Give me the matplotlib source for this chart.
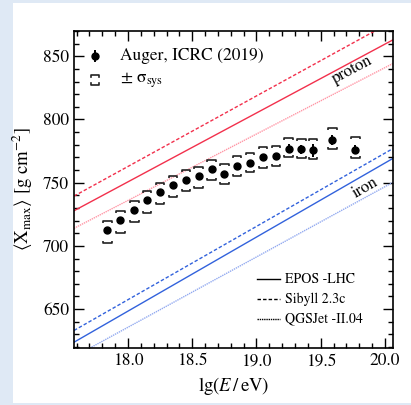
import numpy as np
import matplotlib.pyplot as plt
from matplotlib.collections import LineCollection
from matplotlib.patches import Rectangle

plt.rcParams['font.family'] = ['STIXGeneral', 'DejaVu Serif']
plt.rcParams['mathtext.fontset'] = 'stix'

# Auger FD <Xmax>, ICRC 2019
lgE = [17.84, 17.94, 18.05, 18.15, 18.25, 18.35, 18.45, 18.55, 18.65, 18.75,
       18.85, 18.95, 19.05, 19.15, 19.25, 19.35, 19.44, 19.59, 19.77]
xmax = [712.4, 720.2, 728.3, 736.0, 742.5, 747.8, 752.5, 755.1, 760.6, 757.2,
        763.0, 765.9, 770.1, 770.9, 776.9, 776.4, 775.6, 783.7, 776.1]
stat = [1.0, 1.0, 1.0, 1.0, 1.0, 1.0, 1.0, 1.0, 1.2, 1.2,
        1.5, 1.5, 1.8, 2.0, 3.4, 3.4, 5.0, 3.7, 3.7]
sys_up = [719.9, 727.8, 735.4, 743.3, 749.8, 755.1, 759.8, 762.4, 768.3, 764.8,
          770.9, 773.5, 778.0, 778.7, 785.6, 784.5, 784.5, 792.9, 785.8]
sys_lo = [702.1, 710.0, 718.6, 726.2, 733.1, 738.3, 743.5, 745.9, 752.0, 749.1,
          755.1, 758.3, 762.0, 763.2, 770.3, 769.5, 768.5, 776.6, 769.3]

# model predictions, straight lines in lg(E)
model_lgE = [17.58, 20.06]
p_epos = [727.8, 862.9]
p_sib = [739.4, 877.8]
p_qgs = [713.9, 844.2]
fe_epos = [623.8, 769.1]
fe_sib = [633.1, 776.9]
fe_qgs = [612.3, 750.2]

red, red_l = '#f2304c', '#ff97a6'
blue, blue_l = '#3262dc', '#93aaf0'

fig = plt.figure(figsize=(4.11, 4.05), dpi=100)
fig.patch.set_facecolor('#dfe9f5')
fig.add_artist(Rectangle((13/411, 2.5/405), 1, 400/405, transform=fig.transFigure,
                         facecolor='white', edgecolor='none', zorder=-10))
ax = fig.add_axes([74/411, 1 - 348.3/405, 318.7/411, 317.3/405])
ax.set_zorder(5)
ax.set_facecolor('none')

ax.plot(model_lgE, p_epos, color=red, lw=1.0)
ax.plot(model_lgE, p_sib, color=red, lw=1.0, ls=(0, (2.5, 1.5)))
ax.plot(model_lgE, p_qgs, color=red_l, lw=1.0, ls=(0, (1, 0.6)))
ax.plot(model_lgE, fe_epos, color=blue, lw=1.0)
ax.plot(model_lgE, fe_sib, color=blue, lw=1.0, ls=(0, (2.5, 1.5)))
ax.plot(model_lgE, fe_qgs, color=blue_l, lw=1.0, ls=(0, (1, 0.6)))

# systematic brackets
w, h = 0.033, 1.6
segs = []
for x, up, lo in zip(lgE, sys_up, sys_lo):
    segs.append([(x - w, up - h), (x - w, up), (x + w, up), (x + w, up - h)])
    segs.append([(x - w, lo + h), (x - w, lo), (x + w, lo), (x + w, lo + h)])
ax.add_collection(LineCollection(segs, colors='#222222', linewidths=1.2))

ax.errorbar(lgE, xmax, yerr=stat, fmt='o', color='black', ms=5, elinewidth=1.4,
            capsize=0, zorder=5)

ax.text(19.743, 839, 'proton', rotation=28, fontsize=12, ha='center', va='center')
ax.text(19.85, 745.8, 'iron', rotation=30, fontsize=12, ha='center', va='center')

# legend, data
ax.plot([0.066], [0.921], 'o', color='black', ms=5, transform=ax.transAxes)
ax.plot([0.066, 0.066], [0.905, 0.937], color='black', lw=1.4, transform=ax.transAxes)
ax.text(0.144, 0.921, 'Auger, ICRC (2019)', fontsize=12.5, va='center',
        transform=ax.transAxes)
bx, by, bw, bh, bg = 0.066, 0.846, 0.012, 0.006, 0.015
ax.plot([bx - bw, bx - bw, bx + bw, bx + bw], [by + bg - bh, by + bg, by + bg, by + bg - bh],
        color='#222222', lw=1.2, transform=ax.transAxes)
ax.plot([bx - bw, bx - bw, bx + bw, bx + bw], [by - bg + bh, by - bg, by - bg, by - bg + bh],
        color='#222222', lw=1.2, transform=ax.transAxes)
ax.text(0.144, 0.846, '± σ$_{\\rm sys}$', fontsize=12.5, va='center',
        transform=ax.transAxes)

# legend, models
models = ['EPOS -LHC', 'Sibyll 2.3c', 'QGSJet -II.04']
styles = ['-', (0, (2.5, 1.5)), (0, (1, 0.6))]
for i, (name, ls) in enumerate(zip(models, styles)):
    yy = 0.218 - i * 0.063
    ax.plot([0.574, 0.646], [yy, yy], color='black', lw=1.0, ls=ls, transform=ax.transAxes)
    ax.text(0.661, yy, name, fontsize=10, va='center', transform=ax.transAxes)

ax.set_xlim(17.58, 20.06)
ax.set_ylim(619, 870)
ax.set_xticks(np.arange(18.0, 20.01, 0.5))
ax.set_xticks(np.arange(17.6, 20.06, 0.1), minor=True)
ax.set_yticks(np.arange(650, 851, 50))
ax.set_yticks(np.arange(620, 871, 10), minor=True)
ax.xaxis.set_major_formatter(plt.FormatStrFormatter('%.1f'))
ax.tick_params(which='both', direction='in', top=True, right=True, labelsize=12.5)
ax.tick_params(which='major', length=7, width=1.0)
ax.tick_params(which='minor', length=3.5, width=1.0)
for s in ax.spines.values():
    s.set_linewidth(1.2)

ax.set_xlabel(r'lg($E\,/\,$eV)', fontsize=13.5, labelpad=4)
ax.set_ylabel(r'$\langle \mathrm{X}_{\rm max}\rangle$ [g cm$^{-2}$]', fontsize=13.5, labelpad=6)

fig.savefig('out.png', dpi=100)
